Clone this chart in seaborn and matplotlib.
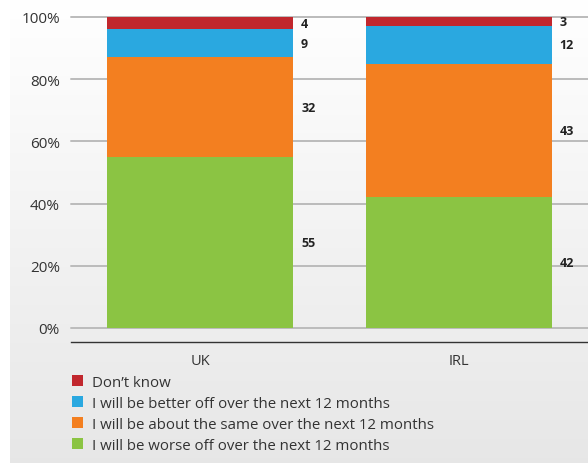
import numpy as np
import pandas as pd
import matplotlib
matplotlib.use("Agg")
import matplotlib.pyplot as plt
import seaborn as sns
from matplotlib.patches import Patch

categories = ["UK", "IRL"]
series_names = ["Don\u2019t know",
                "I will be better off over the next 12 months",
                "I will be about the same over the next 12 months",
                "I will be worse off over the next 12 months"]
dont_know = [4, 3]
better_off = [9, 12]
about_same = [32, 43]
worse_off = [55, 42]
colors = ["#C1272D", "#2AA8E0", "#F37F20", "#8BC443"]
yticks = [0, 20, 40, 60, 80, 100]
ytick_labels = ["0%", "20%", "40%", "60%", "80%", "100%"]

sns.set_style("white")
plt.rcParams["font.family"] = ["Open Sans", "DejaVu Sans"]

fig = plt.figure(figsize=(5.88, 4.64), dpi=100)
W, H = 588, 464

# gradient background panel
bg = fig.add_axes([10 / W, 0, 1 - 10 / W, 1], zorder=0)
grad = np.linspace(1.0, 0.905, 256).reshape(-1, 1)
bg.imshow(np.dstack([grad, grad, grad]), aspect="auto", extent=[0, 1, 0, 1])
bg.axis("off")

ax = fig.add_axes([71 / W, 1 - 329 / H, 1 - 71 / W, (329 - 18) / H], zorder=1)
ax.patch.set_alpha(0)

# stacked via cumulative totals (bottom-up order: worse, same, better, dont know)
stack = [worse_off, about_same, better_off, dont_know]
stack_colors = colors[::-1]
cum = np.cumsum(np.array(stack), axis=0)
df = pd.DataFrame({"cat": categories})
for level in range(len(stack) - 1, -1, -1):
    df["v"] = cum[level]
    sns.barplot(data=df, x="cat", y="v", order=categories, color=stack_colors[level],
                width=0.72, saturation=1, ax=ax, zorder=3, errorbar=None,
                linewidth=0, edgecolor="none")

# value labels
bottoms = np.vstack([np.zeros(len(categories)), cum[:-1]])
for level in range(len(stack)):
    for i in range(len(categories)):
        val = stack[level][i]
        mid = bottoms[level][i] + val / 2
        ax.text(i + 0.39, mid, f"{val}", ha="left", va="center", fontsize=9,
                fontweight="bold", color="#222222")

ax.set_xlim(-0.5, 1.48)
ax.set_ylim(0, 100)
ax.set_yticks(yticks)
ax.set_yticklabels(ytick_labels)
ax.yaxis.grid(True, color="#BBBBBB", linewidth=1.4, zorder=0)
ax.set_axisbelow(True)
ax.tick_params(axis="y", length=0, pad=8, labelsize=11, labelcolor="#333333")
for g in ax.get_ygridlines():
    g.set_clip_on(False)
ax.set_xlabel("")
ax.set_ylabel("")
for s in ["top", "right", "left"]:
    ax.spines[s].set_visible(False)
ax.spines["bottom"].set_position(("outward", 10))
ax.spines["bottom"].set_color("#333333")
ax.spines["bottom"].set_linewidth(1.0)
ax.set_xticks([0, 1])
ax.set_xticklabels(categories)
ax.set_xticks([-0.5, 0.5, 1.5], minor=True)
ax.tick_params(axis="x", which="major", length=0, pad=8, labelsize=10.5, labelcolor="#333333")
ax.tick_params(axis="x", which="minor", length=6.5, width=1.0, color="#555555", direction="out")

handles = [Patch(facecolor=c, edgecolor="none") for c in colors]
fig.legend(handles, series_names, loc="upper left", bbox_to_anchor=(66 / W, 1 - 370 / H),
           frameon=False, fontsize=10.8, handlelength=0.72, handleheight=0.72,
           handletextpad=0.6, labelspacing=0.4, borderaxespad=0, labelcolor="#333333")

fig.savefig("out.png", dpi=100)
